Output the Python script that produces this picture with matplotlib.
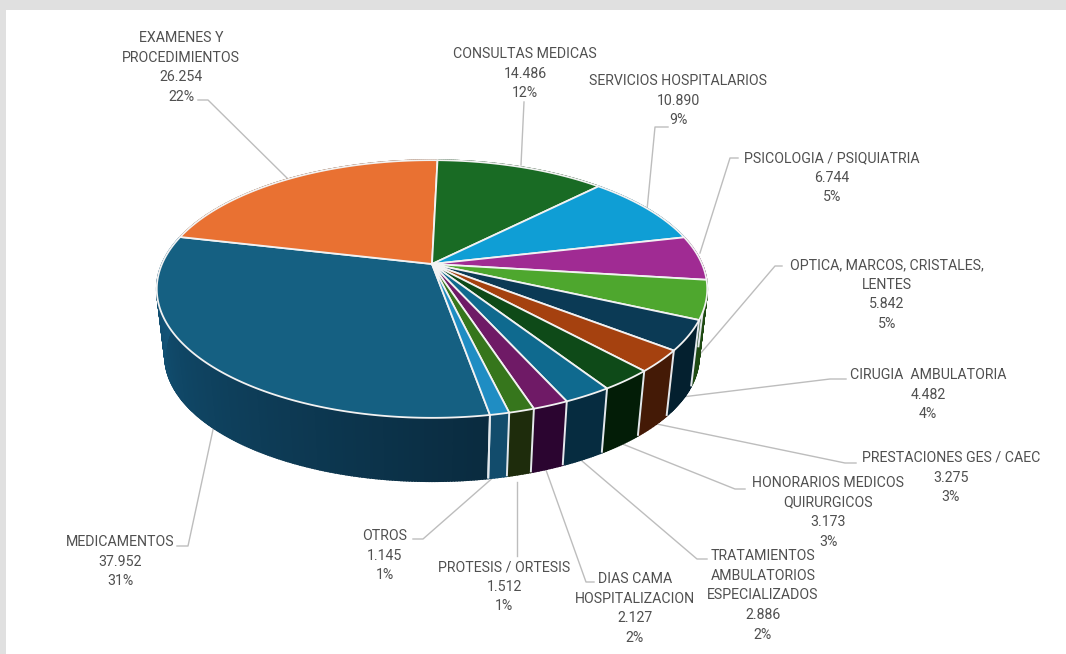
import numpy as np
import matplotlib
matplotlib.use("Agg")
import matplotlib.pyplot as plt
from matplotlib.colors import to_rgb

names = ["MEDICAMENTOS", "EXAMENES Y\nPROCEDIMIENTOS", "CONSULTAS MEDICAS", "SERVICIOS HOSPITALARIOS",
         "PSICOLOGIA / PSIQUIATRIA", "OPTICA, MARCOS, CRISTALES,\nLENTES", "CIRUGIA  AMBULATORIA",
         "PRESTACIONES GES / CAEC", "HONORARIOS MEDICOS\nQUIRURGICOS",
         "TRATAMIENTOS\nAMBULATORIOS\nESPECIALIZADOS", "DIAS CAMA\nHOSPITALIZACION",
         "PROTESIS / ORTESIS", "OTROS"]
values = [37952, 26254, 14486, 10890, 6744, 5842, 4482, 3275, 3173, 2886, 2127, 1512, 1145]
percents = [31, 22, 12, 9, 5, 5, 4, 3, 3, 2, 2, 1, 1]

top_colors = ["#156082", "#E97132", "#196B24", "#0F9ED5", "#A02B93", "#4EA72E", "#0B3A55",
              "#A5410F", "#0E4A18", "#0F6A8F", "#6F1A66", "#36761C", "#1F8DC3"]
wall_left = ["#125377", "#7a3a16", "#0d3a12", "#085a7a", "#5a1650", "#1F4A12", "#04202F",
             "#441A06", "#031D07", "#062C40", "#2B0530", "#1E2C0C", "#124C6C"]
wall_right = ["#0A2B3F", "#7a3a16", "#0d3a12", "#085a7a", "#5a1650", "#1F4A12", "#04202F",
              "#441A06", "#031D07", "#062C40", "#2B0530", "#1E2C0C", "#124C6C"]

label_pos = [(120, 542), (181, 38), (525, 54), (678, 81), (832, 158), (887, 265), (928, 375),
             (951, 458), (828, 483), (763, 556), (635, 579), (504, 567), (385, 536)]
leaders = [[(198, 100), (208, 100), (288, 179)],
           [(177, 546), (188, 546), (214, 425)],
           [(524, 102), (521, 165)],
           [(668, 127), (655, 127), (647, 210)],
           [(738, 158), (730, 158), (700, 253)],
           [(782, 266), (775, 266), (695, 360)],
           [(846, 379), (830, 379), (682, 397)],
           [(856, 463), (845, 463), (652, 423)],
           [(745, 489), (735, 489), (620, 443)],
           [(707, 559), (697, 559), (582, 461)],
           [(594, 582), (586, 582), (546, 470)],
           [(517, 556), (517, 482)],
           [(413, 539), (423, 539), (496, 475)]]

START = 170.0
CX, CY, R, RK, P = 432.0, 264.0, 270.0, 124.0, 0.194
DEPTH, SHRINK = 68.0, 0.97
LINE = 19.7


def project(a_deg, r=1.0, bottom=False):
    a = np.radians(a_deg)
    s = 1.0 / (1.0 + P * r * np.cos(a))
    x, y = R * r * np.sin(a) * s, -RK * r * np.cos(a) * s
    if bottom:
        return CX + x * SHRINK, CY + DEPTH + y * SHRINK
    return CX + x, CY + y


fig = plt.figure(figsize=(10.66, 6.54), dpi=100, facecolor="#E0E0E0")
ax = fig.add_axes([0, 0, 1, 1])
ax.set_xlim(0, 1066)
ax.set_ylim(654, 0)
ax.axis("off")
ax.add_patch(plt.Rectangle((6, 10), 1060, 644, fc="white", ec="none", zorder=0))

for pts in leaders:
    xs, ys = zip(*pts)
    ax.plot(xs, ys, color="#BDBDBD", lw=1.0, zorder=1)

sweep = 360.0 * np.array(values) / sum(values)
edges = START + np.concatenate([[0], np.cumsum(sweep)])

# side wall
for i in range(len(values)):
    a0, a1 = edges[i], edges[i + 1]
    n = max(2, int((a1 - a0) * 2))
    angs = np.linspace(a0, a1, n + 1)
    cl, cr = np.array(to_rgb(wall_left[i])), np.array(to_rgb(wall_right[i]))
    for j in range(n):
        t = j / n
        c = tuple(cr + (cl - cr) * min(1.0, t * 1.15))
        x0, y0 = project(angs[j])
        x1, y1 = project(angs[j + 1])
        x2, y2 = project(angs[j + 1], bottom=True)
        x3, y3 = project(angs[j], bottom=True)
        ax.fill([x0, x1, x2, x3], [y0, y1, y2, y3], facecolor=c, edgecolor=c, lw=1.2, zorder=2)

# separators on the front wall
for e in edges:
    a = e % 360
    if 95 < a < 172:
        x0, y0 = project(a)
        x1, y1 = project(a, bottom=True)
        ax.plot([x0, x1], [y0, y1], color="#E4E8EC", lw=1.4, zorder=3, solid_capstyle="butt")

# top face
for i in range(len(values)):
    angs = np.linspace(edges[i], edges[i + 1], max(4, int(sweep[i] * 2)))
    xs, ys = project(angs)
    ax.fill(np.r_[CX, xs], np.r_[CY, ys], facecolor=top_colors[i], edgecolor="#F2F2F2",
            lw=1.3, joinstyle="round", zorder=4)

# labels
for name, v, p, (x, y) in zip(names, values, percents, label_pos):
    lines = name.split("\n") + [f"{v:,}".replace(",", "."), f"{p}%"]
    for k, line in enumerate(lines):
        ax.text(x, y + k * LINE, line, ha="center", va="center", family="Roboto",
                fontsize=10.2, color="#505050", zorder=5)

fig.savefig("out.png", dpi=100, facecolor=fig.get_facecolor())
